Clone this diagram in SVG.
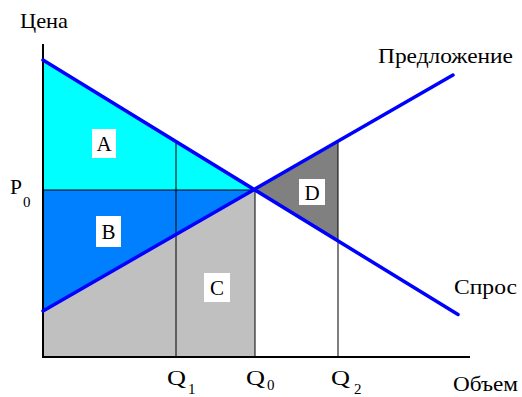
<svg xmlns="http://www.w3.org/2000/svg" width="522" height="397" viewBox="0 0 522 397">
<style>
.t{font-family:"Liberation Serif","Times New Roman",serif;fill:#000}
.lbl{font-size:21px}
.sub{font-size:15px}
.box{fill:#fff}
.thin{stroke:#000;stroke-width:1;fill:none}
.curve{stroke:#0000ff;stroke-width:3.5;fill:none;stroke-linecap:round}
</style>
<rect width="522" height="397" fill="#fff"/>
<g id="regions">
<polygon id="A-area" points="43,60 255,190 43,190" fill="#00ffff"/>
<polygon id="B-area" points="43,190 255,190 43,311" fill="#0080ff"/>
<polygon id="C-area" points="43,311 255,190 255,357 43,357" fill="#c0c0c0"/>
<polygon id="D-area" points="255,190 338,142.6 338,241" fill="#808080"/>
</g>
<g id="guides">
<line class="thin" x1="43" y1="190" x2="255" y2="190"/>
<line class="thin" x1="176" y1="141" x2="176" y2="357"/>
<line class="thin" x1="255" y1="190" x2="255" y2="357"/>
<line class="thin" x1="338" y1="142" x2="338" y2="357"/>
</g>
<g id="axes">
<line x1="43" y1="44" x2="43" y2="358" stroke="#000" stroke-width="2"/>
<line x1="42" y1="357" x2="470" y2="357" stroke="#000" stroke-width="2"/>
</g>
<g id="connectors">
<line id="demand" class="curve" x1="43" y1="60" x2="458" y2="314.5"/>
<line id="supply" class="curve" x1="43" y1="311" x2="453" y2="75"/>
</g>
<g id="labelA"><rect class="box" x="92" y="129" width="24" height="29"/><text class="t lbl" x="104" y="151" text-anchor="middle">A</text></g>
<g id="labelB"><rect class="box" x="96" y="216" width="25" height="31"/><text class="t lbl" x="108.5" y="239" text-anchor="middle">B</text></g>
<g id="labelC"><rect class="box" x="204" y="273" width="26" height="29"/><text class="t lbl" x="217" y="295" text-anchor="middle">C</text></g>
<g id="labelD"><rect class="box" x="299" y="179" width="26" height="26"/><text class="t lbl" x="312" y="200" text-anchor="middle">D</text></g>
<g id="axis-labels">
<text class="t lbl" x="20" y="28" textLength="48" lengthAdjust="spacingAndGlyphs">Цена</text>
<text class="t lbl" x="378" y="63" textLength="135" lengthAdjust="spacingAndGlyphs">Предложение</text>
<text class="t lbl" x="454" y="294" textLength="63" lengthAdjust="spacingAndGlyphs">Спрос</text>
<text class="t lbl" x="453" y="391" textLength="65" lengthAdjust="spacingAndGlyphs">Объем</text>
<text class="t lbl" x="10" y="194" textLength="12" lengthAdjust="spacingAndGlyphs">P</text><text class="t sub" x="23" y="207">0</text>
<text class="t lbl" x="167" y="385" textLength="19" lengthAdjust="spacingAndGlyphs">Q</text><text class="t sub" x="188" y="394">1</text>
<text class="t lbl" x="246" y="385" textLength="19" lengthAdjust="spacingAndGlyphs">Q</text><text class="t sub" x="267" y="390">0</text>
<text class="t lbl" x="331" y="385" textLength="19" lengthAdjust="spacingAndGlyphs">Q</text><text class="t sub" x="354" y="394">2</text>
</g>
</svg>
